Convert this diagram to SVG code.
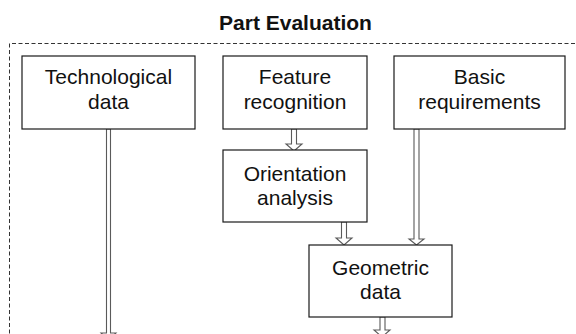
<svg xmlns="http://www.w3.org/2000/svg" width="576" height="334" viewBox="0 0 576 334">
<style>
.box{fill:#fff;stroke:#1a1a1a;stroke-width:1.2}
.t{font-family:"Liberation Sans",Arial,sans-serif;font-size:21px;fill:#111;text-anchor:middle}
.title{font-family:"Liberation Sans",Arial,sans-serif;font-size:21px;font-weight:bold;fill:#111;text-anchor:middle}
.frame{fill:none;stroke:#333;stroke-width:1;stroke-dasharray:4 2.5}
.arr{fill:#fff;stroke:#5a5a5a;stroke-width:1.1;stroke-linejoin:miter}
</style>
<rect width="576" height="334" fill="#fff"/>
<text class="title" x="295.5" y="30">Part Evaluation</text>
<path class="frame" d="M9.5,340 V43.5 H580"/>
<g id="connectors">
<polygon class="arr" points="106.5,129 106.5,333 101,333 108.5,340 116,333 110.5,333 110.5,129"/>
<polygon class="arr" points="291.5,129 291.5,144 286,144 294,151 302,144 296.5,144 296.5,129"/>
<polygon class="arr" points="341.5,222 341.5,238 336,238 344,245 352,238 346.5,238 346.5,222"/>
<polygon class="arr" points="414,129 414,239 409,239 416.5,245 424,239 419,239 419,129"/>
<polygon class="arr" points="380,317 380,330 374,330 382,337 390,330 385,330 385,317"/>
</g>
<g id="technological">
<rect class="box" x="22" y="56" width="173" height="73"/>
<text class="t" x="108.5" y="83.5">Technological</text>
<text class="t" x="108.5" y="108.5">data</text>
</g>
<g id="feature">
<rect class="box" x="223" y="56" width="144" height="73"/>
<text class="t" x="295" y="83.5">Feature</text>
<text class="t" x="295" y="108.5">recognition</text>
</g>
<g id="basic">
<rect class="box" x="394" y="56" width="171" height="73"/>
<text class="t" x="479.5" y="83.5">Basic</text>
<text class="t" x="479.5" y="108.5">requirements</text>
</g>
<g id="orientation">
<rect class="box" x="223" y="150" width="144" height="72"/>
<text class="t" x="295" y="180.5">Orientation</text>
<text class="t" x="295" y="204.5">analysis</text>
</g>
<g id="geometric">
<rect class="box" x="309" y="245" width="143" height="72"/>
<text class="t" x="380.5" y="275">Geometric</text>
<text class="t" x="380.5" y="299">data</text>
</g>
</svg>
